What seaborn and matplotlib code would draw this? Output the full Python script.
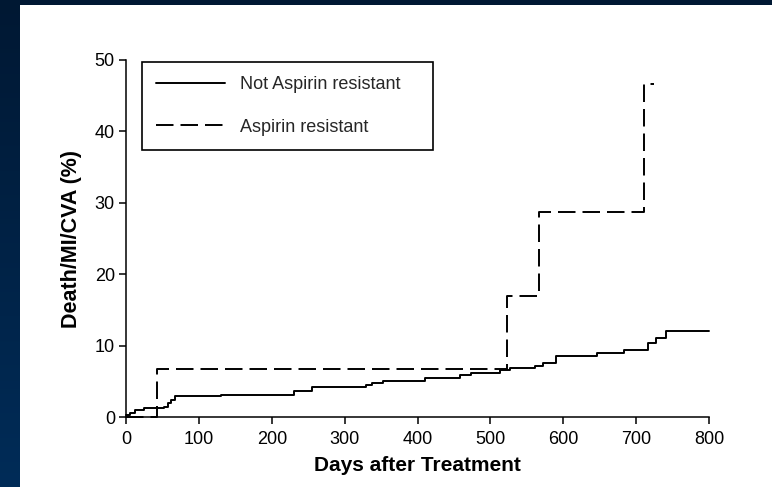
import numpy as np
import pandas as pd
import matplotlib
matplotlib.use("Agg")
import matplotlib.pyplot as plt
from matplotlib.patches import Rectangle
from matplotlib.colors import LinearSegmentedColormap
import seaborn as sns

# ---- data ----
not_res_days = [0, 5, 12, 25, 52, 57, 62, 67, 130, 230, 255, 330, 338, 353, 410,
                458, 474, 513, 527, 561, 572, 590, 646, 684, 716, 727, 741, 800]
not_res_pct = [0.3, 0.6, 1.0, 1.2, 1.4, 1.9, 2.4, 2.9, 3.1, 3.7, 4.2, 4.5, 4.8, 5.0, 5.4,
               5.95, 6.2, 6.55, 6.8, 7.2, 7.6, 8.6, 9.0, 9.4, 10.4, 11.1, 12.0, 12.0]
res_days = [0, 42, 523, 567, 711, 724]
res_pct = [0.0, 6.7, 16.9, 28.7, 46.6, 46.6]
series_labels = ["Not Aspirin resistant", "Aspirin resistant"]
x_ticks = [0, 100, 200, 300, 400, 500, 600, 700, 800]
y_ticks = [0, 10, 20, 30, 40, 50]
x_label = "Days after Treatment"
y_label = "Death/MI/CVA (%)"

sns.set_style("ticks")
plt.rcParams["font.family"] = ["Liberation Sans", "DejaVu Sans"]

W, H = 772, 487
fig = plt.figure(figsize=(W / 100, H / 100), dpi=100)

# background: dark blue gradient frame + white panel
bg = fig.add_axes([0, 0, 1, 1], zorder=-10)
grad = np.linspace(0, 1, 256).reshape(-1, 1)
cmap = LinearSegmentedColormap.from_list("bg", ["#001833", "#002c58"])
bg.imshow(grad, aspect="auto", cmap=cmap, extent=[0, W, H, 0])
bg.add_patch(Rectangle((20, 5), W - 20, H - 5, facecolor="white", edgecolor="none"))
bg.set_xlim(0, W)
bg.set_ylim(H, 0)
bg.axis("off")

left, right = 126 / W, 709 / W
bottom, top = 1 - 417 / H, 1 - 60 / H
ax = fig.add_axes([left, bottom, right - left, top - bottom])
ax.set_facecolor("none")

df1 = pd.DataFrame({"day": not_res_days, "pct": not_res_pct})
df2 = pd.DataFrame({"day": res_days, "pct": res_pct})
sns.lineplot(data=df1, x="day", y="pct", ax=ax, drawstyle="steps-post",
             estimator=None, color="black", linewidth=1.4, label=series_labels[0])
sns.lineplot(data=df2, x="day", y="pct", ax=ax, drawstyle="steps-post",
             estimator=None, color="black", linewidth=1.4, label=series_labels[1])
ax.lines[1].set_linestyle((0, (9, 3.6)))
for ln in ax.lines:
    ln.set_clip_on(False)

ax.set_xlim(0, 800)
ax.set_ylim(0, 50)
ax.set_xticks(x_ticks)
ax.set_yticks(y_ticks)
ax.tick_params(direction="out", length=5, width=1.1, color="black",
               labelsize=13, labelcolor="black", pad=3)
ax.tick_params(axis="x", pad=5)
for s in ["top", "right"]:
    ax.spines[s].set_visible(False)
for s in ["left", "bottom"]:
    ax.spines[s].set_color("black")
    ax.spines[s].set_linewidth(1.1)

ax.set_xlabel(x_label, fontsize=15, fontweight="bold", color="black", labelpad=6)
ax.set_ylabel(y_label, fontsize=15.5, fontweight="bold", color="black", labelpad=9)

x0 = (142 - 126) / 583
w = (433 - 142) / 583
ytop = (417 - 62) / 357
h = (147 - 62) / 357
leg = ax.legend(loc="upper left", bbox_to_anchor=(x0, ytop - h, w, h), mode="expand",
                borderaxespad=0, fontsize=13, handlelength=3.8, handletextpad=0.85,
                borderpad=0.8, labelspacing=1.4, fancybox=False, frameon=True)
leg.get_frame().set_edgecolor("black")
leg.get_frame().set_linewidth(1.2)
leg.get_frame().set_alpha(1)

fig.savefig("out.png", dpi=100)
